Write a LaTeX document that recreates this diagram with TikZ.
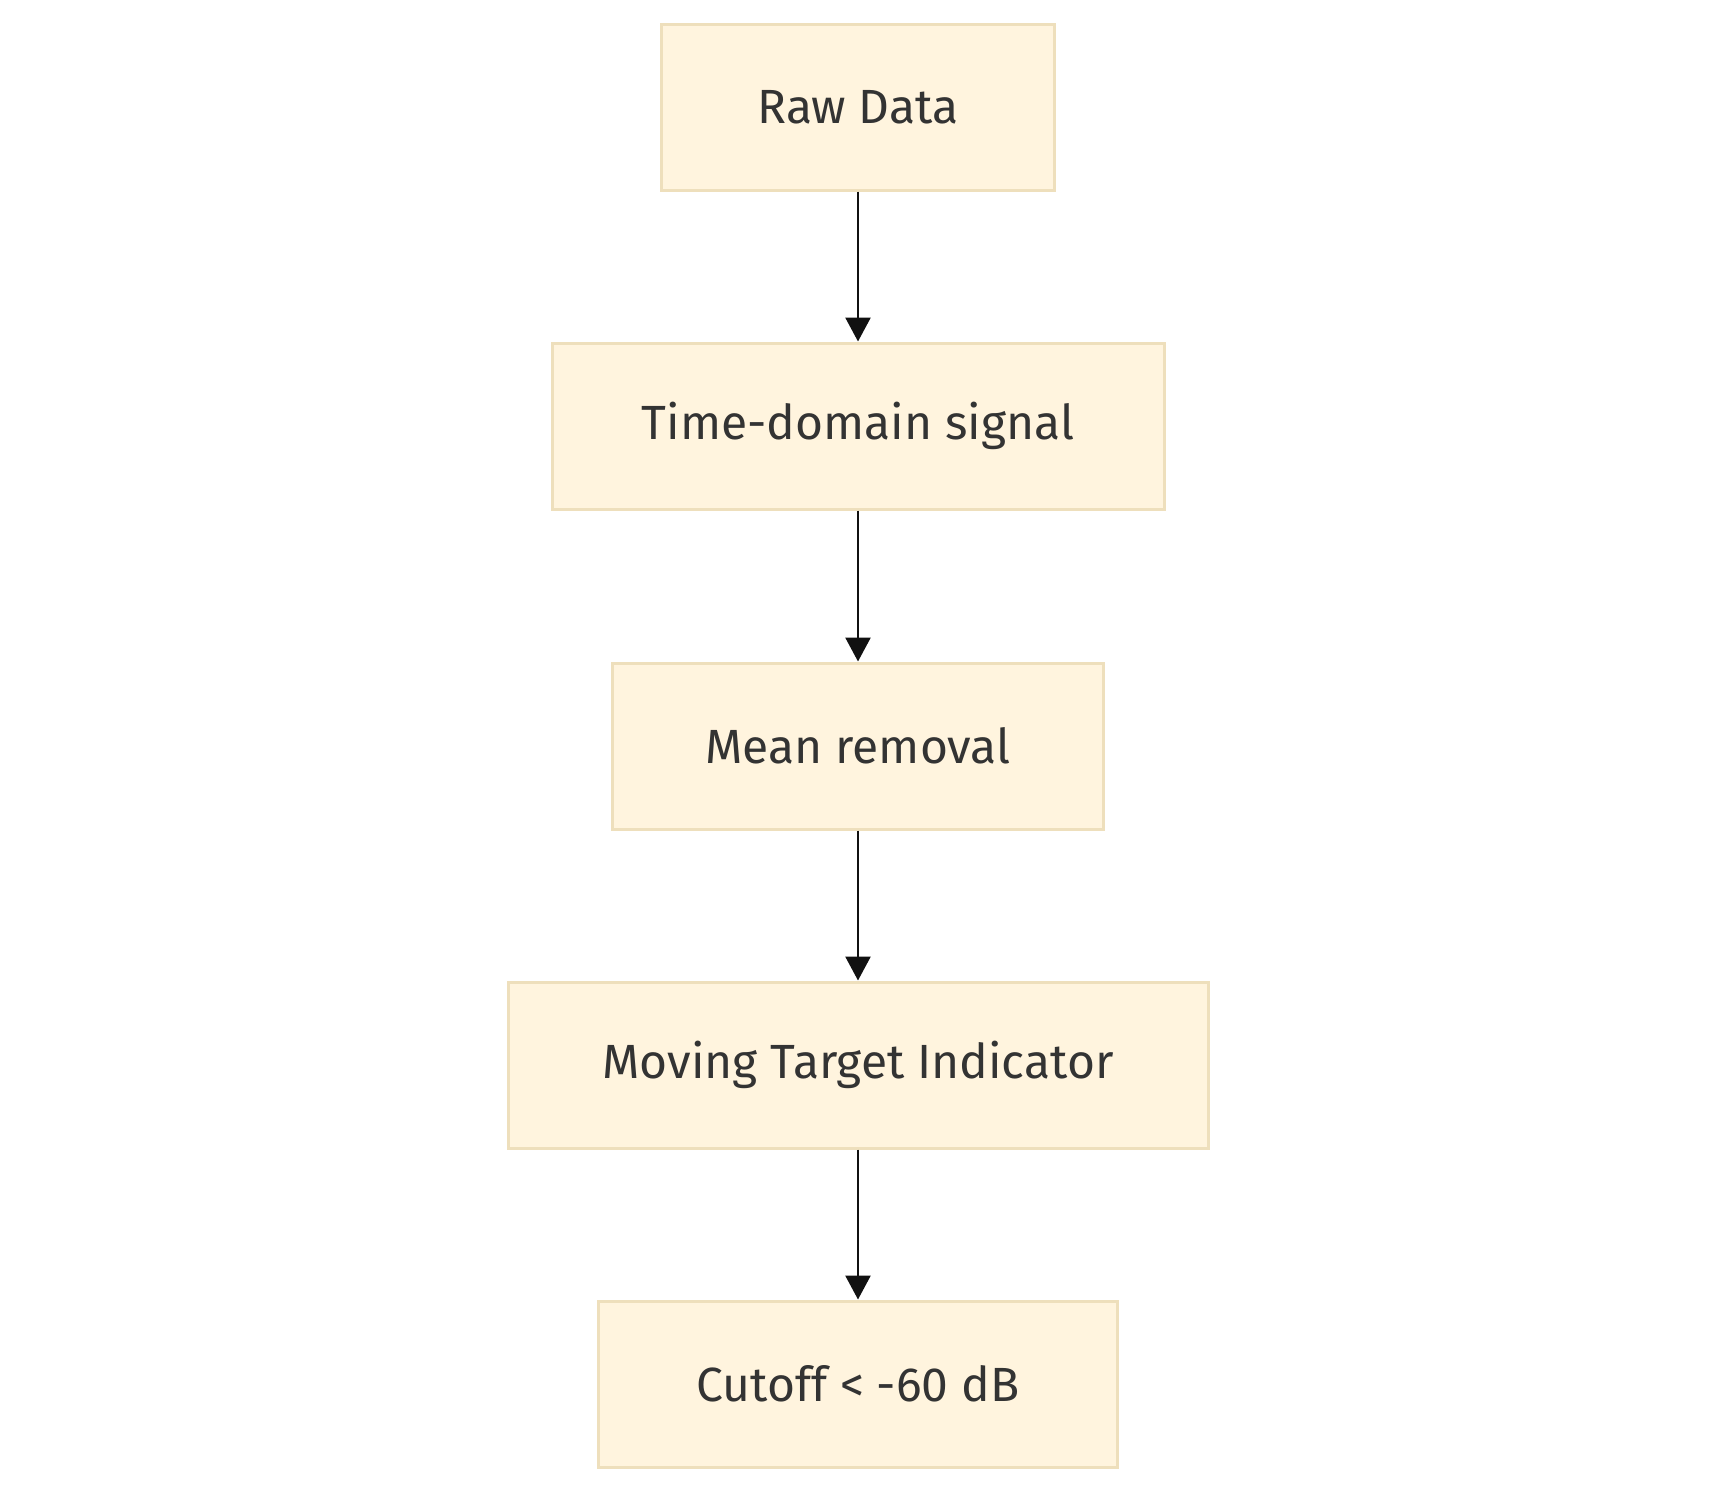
\documentclass[tikz,border=0pt]{standalone}
\usepackage{fontspec}
\setmainfont{Fira Sans}
\usetikzlibrary{arrows.meta}
\definecolor{boxfill}{HTML}{FFF4DE}
\definecolor{boxline}{HTML}{EEDFBC}
\definecolor{txt}{HTML}{333333}
\definecolor{arr}{HTML}{111111}
\begin{document}
\begin{tikzpicture}[x=1pt,y=-1pt,
  procbox/.style={draw=boxline, fill=boxfill, line width=3pt, minimum height=166pt,
    inner sep=0pt, text=txt, font=\fontsize{48}{58}\selectfont},
  flow/.style={draw=arr, line width=2.6pt, -{Triangle[length=24pt,width=25pt]}}]
\useasboundingbox (0,0) rectangle (1717,1492);
\fill[white] (0,0) rectangle (1717,1492);
\node[procbox, minimum width=393pt] (raw) at (858,107) {Raw Data};
\node[procbox, minimum width=612pt] (tds) at (858,426) {Time-domain signal};
\node[procbox, minimum width=491pt] (mr)  at (858,746) {Mean removal};
\node[procbox, minimum width=700pt] (mti) at (858,1065) {Moving Target Indicator};
\node[procbox, minimum width=519pt] (cut) at (858,1384) {Cutoff < -60 dB};
\draw[flow] (raw.south) -- (tds.north);
\draw[flow] (tds.south) -- (mr.north);
\draw[flow] (mr.south) -- (mti.north);
\draw[flow] (mti.south) -- (cut.north);
\end{tikzpicture}
\end{document}
